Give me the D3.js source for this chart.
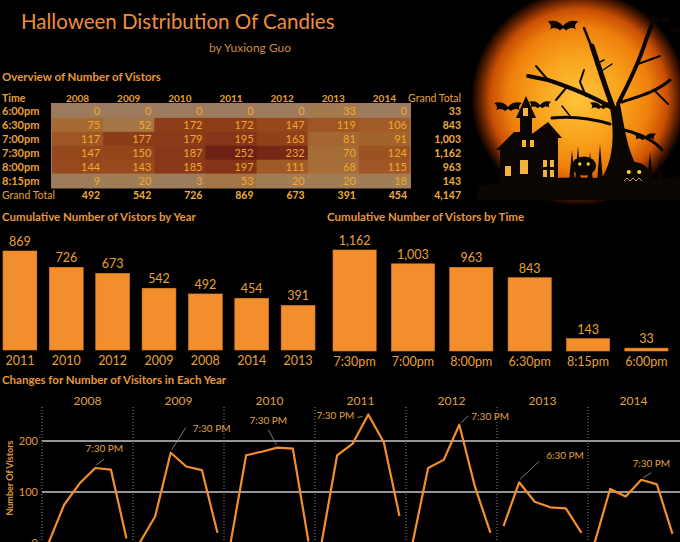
<!DOCTYPE html>
<html>
<head>
<meta charset="utf-8">
<script src="https://cdn.jsdelivr.net/npm/d3@7"></script>
<style>
  body { margin: 0; background: #000; }
  svg { display: block; font-family: Lato, 'Noto Sans', sans-serif; }
</style>
</head>
<body>
<svg id="canvas"></svg>
<script>
const years = ['2008', '2009', '2010', '2011', '2012', '2013', '2014'];
const times = ['6:00pm', '6:30pm', '7:00pm', '7:30pm', '8:00pm', '8:15pm'];
// visitors[timeIndex][yearIndex]
const visitors = [
	[0, 0, 0, 0, 0, 33, 0],
	[75, 52, 172, 172, 147, 119, 106],
	[117, 177, 179, 195, 163, 81, 91],
	[147, 150, 187, 252, 232, 70, 124],
	[144, 143, 185, 197, 111, 68, 115],
	[9, 20, 3, 53, 20, 20, 18]
];
const peakLabels = ['7:30 PM', '7:30 PM', '7:30 PM', '7:30 PM', '7:30 PM', '6:30 PM', '7:30 PM'];
const lineTicks = [0, 100, 200];

const width = 680;
const height = 542;
const orange = '#f28e2b';
const textCol = '#e8a035';
const fmt = d3.format(',');

const canvas = d3.select('#canvas').attr('width', width).attr('height', height);
canvas.append('rect').attr('width', width).attr('height', height).attr('fill', '#000');

const yearTotals = years.map((y, i) => ({ key: y, value: d3.sum(visitors, (row) => row[i]) }));
const timeTotals = times.map((t, j) => ({ key: t, value: d3.sum(visitors[j]) }));
const grandTotal = d3.sum(yearTotals, (d) => d.value);

// ---------- halloween picture ----------
const drawPicture = () => {
	const defs = canvas.append('defs');
	const grad = defs.append('radialGradient').attr('id', 'moon')
		.attr('cx', 0.5).attr('cy', 0.5).attr('r', 0.5);
	[[0, '#ffc43c'], [0.4, '#f8a21c'], [0.66, '#ef7f0c'], [0.82, '#c94f04'], [0.92, '#5a1e00'], [1, '#000']]
		.forEach((s) => grad.append('stop').attr('offset', s[0]).attr('stop-color', s[1]));

	const g = canvas.append('g');
	g.append('circle').attr('cx', 579).attr('cy', 98).attr('r', 108).attr('fill', 'url(#moon)');

	const ink = '#0b0603';
	// ground
	g.append('path').attr('fill', ink)
		.attr('d', 'M478,200 L478,186 C520,180 560,176 600,178 C630,176 660,180 680,176 L680,200 Z');
	// grass blades
	const grass = [[572, 150], [578, 146], [590, 152], [600, 144], [612, 150], [650, 152], [660, 158]];
	grass.forEach((p) => g.append('path').attr('fill', ink)
		.attr('d', `M${p[0] - 3},182 L${p[0]},${p[1]} L${p[0] + 3},182 Z`));

	// tree trunk
	g.append('path').attr('fill', ink)
		.attr('d', 'M596,186 C612,168 616,140 610,108 L620,104 C626,134 628,166 654,186 Z');
	const branches = [
		['M614,110 C606,90 600,70 592,46', 5],
		['M592,48 L584,28', 2.5],
		['M612,108 C596,98 572,88 548,80 L528,76', 4],
		['M548,80 L536,66', 2],
		['M566,88 L556,100', 2],
		['M586,96 L580,82 L584,70', 2],
		['M618,104 C628,84 638,66 646,40 L652,24', 4],
		['M638,64 L660,56', 2],
		['M622,102 C640,96 656,92 670,80', 3],
		['M656,92 L668,104', 2],
		['M610,124 C590,118 570,116 552,118', 3],
		['M570,116 L562,106', 1.5],
		['M624,130 C640,134 654,140 662,150', 3],
		['M604,60 L596,64', 1.5],
		['M600,72 L612,64', 1.5]
	];
	branches.forEach((b) => g.append('path').attr('d', b[0]).attr('fill', 'none')
		.attr('stroke', ink).attr('stroke-width', b[1]).attr('stroke-linecap', 'round'));

	// house
	g.append('path').attr('fill', ink)
		.attr('d', 'M500,186 L500,150 L496,150 L514,132 L520,132 L520,118 L516,118 L526,96 L536,118 L532,118 L532,134 L548,122 L562,138 L558,138 L558,186 Z');
	const windows = [[505, 166, 6, 10], [523, 108, 5, 8], [522, 140, 4, 7], [530, 140, 4, 7], [520, 160, 8, 14], [543, 160, 4, 7], [550, 160, 4, 7], [543, 170, 4, 7], [550, 170, 4, 7]];
	windows.forEach((w) => g.append('rect').attr('x', w[0]).attr('y', w[1])
		.attr('width', w[2]).attr('height', w[3]).attr('fill', '#f3b23a'));

	// pumpkins
	[[584, 166, 12], [634, 174, 15]].forEach((p) => {
		g.append('ellipse').attr('cx', p[0]).attr('cy', p[1]).attr('rx', p[2]).attr('ry', p[2] * 0.8).attr('fill', ink);
		g.append('circle').attr('cx', p[0] - p[2] * 0.35).attr('cy', p[1] - 2).attr('r', p[2] * 0.14).attr('fill', '#f4d23a');
		g.append('circle').attr('cx', p[0] + p[2] * 0.35).attr('cy', p[1] - 2).attr('r', p[2] * 0.14).attr('fill', '#f4d23a');
	});
	g.append('path').attr('fill', 'none').attr('stroke', '#c89a55').attr('stroke-width', 1)
		.attr('d', 'M624,181 L627,178 L630,181 L633,178 L636,181 L639,178 L642,181');

	// bats
	const bat = (cx, cy, s) => g.append('path').attr('fill', ink)
		.attr('transform', `translate(${cx},${cy}) scale(${s})`)
		.attr('d', 'M0,0 C-3,-4 -8,-6 -14,-4 C-11,-2 -10,1 -12,3 C-8,1 -5,2 -3,4 L0,2 L3,4 C5,2 8,1 12,3 C10,1 11,-2 14,-4 C8,-6 3,-4 0,0 Z');
	bat(563, 26, 1.1);
	bat(508, 107, 1);
	bat(540, 105, 0.8);
	bat(601, 106, 0.8);
	bat(645, 137, 0.8);
	bat(660, 20, 0.8);
	bat(676, 30, 0.6);
};
drawPicture();

// ---------- titles ----------
canvas.append('text').attr('x', 21).attr('y', 29).attr('font-size', 20.5)
	.attr('fill', '#ee8f38').text('Halloween Distribution Of Candies');
canvas.append('text').attr('x', 209).attr('y', 52).attr('font-size', 12)
	.attr('fill', '#cc8a44').text('by Yuxiong Guo');

const sectionTitle = (x, y, t) => canvas.append('text').attr('x', x).attr('y', y)
	.attr('font-size', 11.5).attr('font-weight', 'bold').attr('fill', '#e89838').text(t);

// ---------- overview table ----------
const drawTable = () => {
	sectionTitle(2, 81, 'Overview of Number of Vistors');

	const xCell = d3.scaleBand().domain(years).range([52, 410]);
	const yCell = d3.scaleBand().domain(times).range([104, 187.5]);
	const color = d3.scaleLinear()
		.domain([0, 20, 45, 75, 110, 150, 190, 252])
		.range(['#9c7b5e', '#a07d55', '#a5784a', '#a66a33', '#a05a26', '#94461b', '#873718', '#6c2114']);

	canvas.append('rect').attr('x', 51).attr('y', 103).attr('width', 360).attr('height', 85.5)
		.attr('fill', '#9c7b5e');

	const cells = [];
	times.forEach((t, j) => years.forEach((y, i) => cells.push({ time: t, year: y, value: visitors[j][i] })));

	canvas.selectAll('.cell').data(cells).enter().append('rect')
		.attr('class', 'cell')
		.attr('x', (d) => xCell(d.year))
		.attr('y', (d) => yCell(d.time))
		.attr('width', xCell.bandwidth() + 0.5)
		.attr('height', yCell.bandwidth() + 0.5)
		.attr('fill', (d) => color(d.value));

	canvas.selectAll('.cellText').data(cells).enter().append('text')
		.attr('x', (d) => xCell(d.year) + xCell.bandwidth() - 3)
		.attr('y', (d) => yCell(d.time) + yCell.bandwidth() / 2 + 4)
		.attr('text-anchor', 'end').attr('font-size', 11).attr('fill', '#f2a72e')
		.text((d) => fmt(d.value));

	const hdrY = 101.5;
	canvas.append('text').attr('x', 2).attr('y', hdrY).attr('font-size', 10.5)
		.attr('font-weight', 'bold').attr('fill', textCol).text('Time');
	canvas.selectAll('.yearHdr').data(years).enter().append('text')
		.attr('x', (d) => xCell(d) + xCell.bandwidth() / 2).attr('y', hdrY)
		.attr('text-anchor', 'middle').attr('font-size', 10).attr('font-weight', 'bold')
		.attr('fill', textCol).text((d) => d);
	canvas.append('text').attr('x', 461).attr('y', hdrY).attr('text-anchor', 'end')
		.attr('font-size', 10.5).attr('fill', textCol).text('Grand Total');

	canvas.selectAll('.rowLbl').data(timeTotals).enter().append('text')
		.attr('x', 2).attr('y', (d) => yCell(d.key) + yCell.bandwidth() / 2 + 4)
		.attr('font-size', 11).attr('font-weight', 'bold').attr('fill', textCol).text((d) => d.key);
	canvas.selectAll('.rowTot').data(timeTotals).enter().append('text')
		.attr('x', 461).attr('y', (d) => yCell(d.key) + yCell.bandwidth() / 2 + 4)
		.attr('text-anchor', 'end').attr('font-size', 10.5).attr('font-weight', 'bold')
		.attr('fill', '#f0ac3a').text((d) => fmt(d.value));

	const totY = 199;
	canvas.append('text').attr('x', 2).attr('y', totY).attr('font-size', 10.5)
		.attr('fill', textCol).text('Grand Total');
	canvas.selectAll('.colTot').data(yearTotals).enter().append('text')
		.attr('x', (d) => xCell(d.key) + xCell.bandwidth() - 3).attr('y', totY)
		.attr('text-anchor', 'end').attr('font-size', 10.5).attr('font-weight', 'bold')
		.attr('fill', '#f0ac3a').text((d) => fmt(d.value));
	canvas.append('text').attr('x', 461).attr('y', totY).attr('text-anchor', 'end')
		.attr('font-size', 10.5).attr('font-weight', 'bold').attr('fill', '#f0ac3a').text(fmt(grandTotal));
};
drawTable();

// ---------- bar charts ----------
const drawBars = (data, x0, x1, base, top, padding, title, titleX) => {
	sectionTitle(titleX, 221, title);
	const sorted = data.slice().sort((a, b) => b.value - a.value);
	const x = d3.scaleBand().domain(sorted.map((d) => d.key)).range([x0, x1])
		.paddingInner(padding).paddingOuter(0);
	const y = d3.scaleLinear().domain([0, d3.max(sorted, (d) => d.value)]).range([base, top]);

	const g = canvas.append('g');
	g.selectAll('rect').data(sorted).enter().append('rect')
		.attr('x', (d) => x(d.key)).attr('y', (d) => y(d.value))
		.attr('width', x.bandwidth()).attr('height', (d) => base - y(d.value))
		.attr('fill', orange).attr('stroke', '#e07e22').attr('stroke-width', 0.6);
	g.selectAll('.val').data(sorted).enter().append('text')
		.attr('x', (d) => x(d.key) + x.bandwidth() / 2).attr('y', (d) => y(d.value) - 5)
		.attr('text-anchor', 'middle').attr('font-size', 12.5).attr('fill', textCol)
		.text((d) => fmt(d.value));
	g.selectAll('.lbl').data(sorted).enter().append('text')
		.attr('x', (d) => x(d.key) + x.bandwidth() / 2).attr('y', base + 15)
		.attr('text-anchor', 'middle').attr('font-size', 12.5).attr('fill', textCol)
		.text((d) => d.key);
};
drawBars(yearTotals, 3, 315, 350, 251, 0.27, 'Cumulative Number of Vistors by Year', 2);
drawBars(timeTotals, 333, 668, 351, 250, 0.26, 'Cumulative Number of Vistors by Time', 327);

// ---------- line chart ----------
const drawLines = () => {
	sectionTitle(2, 384, 'Changes for Number of Visitors in Each Year');

	const xPanel = d3.scaleBand().domain(years).range([42, 679]);
	const xTime = d3.scalePoint().domain(times).range([0, xPanel.bandwidth()]).padding(0.42);
	const y = d3.scaleLinear().domain([0, 200]).range([543, 441]);

	const g = canvas.append('g');
	g.selectAll('.grid').data(lineTicks).enter().append('line')
		.attr('x1', 42).attr('x2', 680).attr('y1', (d) => y(d)).attr('y2', (d) => y(d))
		.attr('stroke', '#c8c8c8').attr('stroke-width', 1.5);
	g.selectAll('.tick').data(lineTicks).enter().append('text')
		.attr('x', 38).attr('y', (d) => y(d) + 4).attr('text-anchor', 'end')
		.attr('font-size', 11).attr('fill', '#e09a3a').text((d) => d);
	g.append('text').attr('transform', 'translate(13,478) rotate(-90)')
		.attr('text-anchor', 'middle').attr('font-size', 9).attr('font-weight', 'bold')
		.attr('fill', '#e09a3a').text('Number Of Vistors');

	g.selectAll('.sep').data(years).enter().append('line')
		.attr('x1', (d) => xPanel(d)).attr('x2', (d) => xPanel(d))
		.attr('y1', 407).attr('y2', 542)
		.attr('stroke', '#8a8a8a').attr('stroke-width', 1).attr('stroke-dasharray', '1,2');

	g.selectAll('.yearLbl').data(years).enter().append('text')
		.attr('x', (d) => xPanel(d) + xPanel.bandwidth() / 2).attr('y', 405)
		.attr('text-anchor', 'middle').attr('font-size', 12).attr('fill', '#e0a040')
		.text((d) => d);

	const line = d3.line().x((d) => d.x).y((d) => d.y);
	// label offsets from the peak point: [leader dx1, dy1, dx2, dy2, label x, label y]
	const notes = [
		[1, -3, 9, -9, 9, -16, 'middle'],
		[1, -3, 15, -25, 22, -21, 'start'],
		[-1, -3, -9, -18, -9, -24, 'middle'],
		[-6, 2, -11, 3, -14, 5, 'end'],
		[2, -2, 9, -9, 12, -5, 'start'],
		[1, -3, 20, -21, 27, -23, 'start'],
		[2, -2, 10, -7, 10, -13, 'middle']
	];
	years.forEach((yr, i) => {
		const pts = times.map((t, j) => ({ x: xPanel(yr) + xTime(t), y: y(visitors[j][i]), v: visitors[j][i] }));
		g.append('path').attr('d', line(pts)).attr('fill', 'none')
			.attr('stroke', orange).attr('stroke-width', 2.2).attr('stroke-linejoin', 'round');
		const peak = pts[d3.maxIndex(pts, (p) => p.v)];
		const n = notes[i];
		g.append('line').attr('x1', peak.x + n[0]).attr('y1', peak.y + n[1])
			.attr('x2', peak.x + n[2]).attr('y2', peak.y + n[3])
			.attr('stroke', '#9a9a9a').attr('stroke-width', 0.8);
		g.append('text').attr('x', peak.x + n[4]).attr('y', peak.y + n[5])
			.attr('text-anchor', n[6]).attr('font-size', 10).attr('fill', '#e0a040')
			.text(peakLabels[i]);
	});
};
drawLines();
</script>
</body>
</html>
